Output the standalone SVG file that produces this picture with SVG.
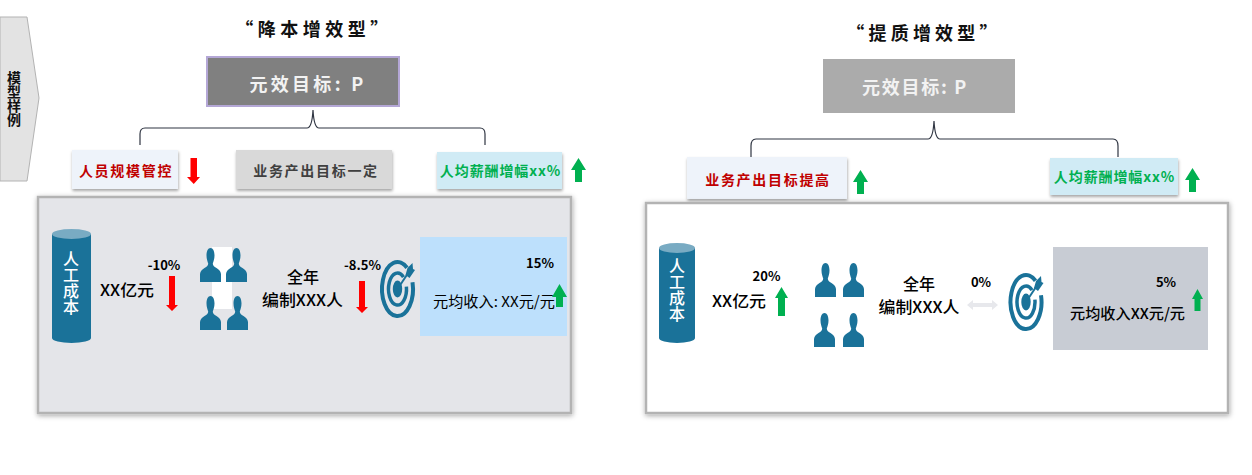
<svg xmlns="http://www.w3.org/2000/svg" xmlns:xlink="http://www.w3.org/1999/xlink" width="1252" height="475" viewBox="0 0 1252 475">
<style>
text{font-family:"Noto Sans CJK SC","Noto Sans",sans-serif;text-anchor:middle}
.ttl{font-size:18px;font-weight:700;fill:#111}
.goal{font-size:18px;font-weight:700}
.lab{font-size:14px;font-weight:700}
.body{font-size:16px;font-weight:500;fill:#000}
.pct{font-size:13px;font-weight:700;fill:#000}
.vert{writing-mode:vertical-rl;text-orientation:upright}
.cyl{font-size:16px;font-weight:500;fill:#fff}
.brace{fill:none;stroke:#2f3542;stroke-width:1.2}
.panel{stroke:#b3b3b3;stroke-width:2.500}
.red{fill:#ff0000}.grn{fill:#00b050}.blue{fill:#1a7299}
</style>
<defs>
<filter id="sh" x="-10%" y="-10%" width="120%" height="125%"><feDropShadow dx="0.5" dy="2" stdDeviation="1.5" flood-color="#000" flood-opacity="0.35"/></filter>
<filter id="psh" x="-5%" y="-5%" width="110%" height="110%"><feDropShadow dx="0.5" dy="1.500" stdDeviation="2.500" flood-color="#000" flood-opacity="0.35"/></filter>
<path id="person" d="M10.500 0C13 0 14.500 3 14.500 7.500C14.500 11 13.400 13.600 12.800 15.500C12.800 17.500 14 18.500 16.500 20C19 21.500 20.600 23 21 26L21 34L0 34L0 26C.4 23 2 21.500 4.500 20C7 18.500 8.200 17.500 8.200 15.500C7.600 13.600 6.500 11 6.500 7.500C6.500 3 8 0 10.500 0Z"/>
<g id="target">
<path d="M9.500 -21.300A15.500 27 0 1 0 15 -6.800" fill="none" stroke="#1a7299" stroke-width="4"/>
<path d="M6 -11.900A9 16 0 1 0 8.900 -2.400" fill="none" stroke="#1a7299" stroke-width="3.500"/>
<ellipse cx="0" cy="0" rx="4.700" ry="8.500" fill="#1a7299"/>
<path d="M0 0L10 -15" stroke="#1a7299" stroke-width="2"/>
<path d="M8 -14L10 -21L15 -26L15.500 -20L17.500 -19L12 -11Z" fill="#1a7299"/>
</g>
</defs>

<g id="side-tab">
<polygon points="0,17 27,17 39,98 27,181 0,181" fill="#e3e3e3" stroke="#b3b3b3"/>
<text class="vert" x="14" y="99" font-size="14" font-weight="700" fill="#111">模型样例</text>
</g>

<g id="title-left"><text class="ttl" x="314" y="36" letter-spacing="4.500">“降本增效型”</text></g>
<g id="goal-left">
<rect x="207" y="57" width="192" height="49" fill="#808080" stroke="#b4a7d6" stroke-width="2"/>
<text class="goal" x="308" y="91" fill="#f2f2f2" letter-spacing="3.300">元效目标: P</text>
</g>
<g id="label-staff">
<rect x="72" y="150" width="106" height="39" fill="#eef3fa" filter="url(#sh)"/>
<text class="lab" x="126" y="176" fill="#c00000" letter-spacing="1.700">人员规模管控</text>
</g>
<g id="label-output">
<rect x="236" y="150" width="156" height="39" fill="#d9d9d9" filter="url(#sh)"/>
<text class="lab" x="316" y="176" fill="#404040" letter-spacing="1.700">业务产出目标一定</text>
</g>
<g id="label-pay-left">
<rect x="437" y="152" width="125" height="37" fill="#d0ebf5" filter="url(#sh)"/>
<text class="lab" x="500.500" y="176" fill="#00b050" letter-spacing="0.900">人均薪酬增幅xx%</text>
</g>

<g id="panel-left">
<rect class="panel" x="38" y="197" width="533" height="216" fill="#e4e5e9" filter="url(#psh)"/>
<rect x="420" y="237" width="147" height="99" fill="#bde0fc"/>
<rect x="212" y="247" width="20" height="62" fill="#fff"/>
</g>
<g id="cylinder-left">
<path class="blue" d="M52 234V338A19.500 5 0 0 0 91 338V234Z"/>
<ellipse cx="71.500" cy="234" rx="19.500" ry="5" fill="#79abc3"/>
<text class="cyl vert" x="71" y="283">人工成本</text>
</g>
<g id="cost-left"><text class="body" x="127" y="296" textLength="54" lengthAdjust="spacingAndGlyphs">XX亿元</text><text class="pct" x="164" y="270">-10%</text></g>
<g id="people-left" class="blue">
<use xlink:href="#person" href="#person" x="200" y="248"/><use xlink:href="#person" href="#person" x="226" y="248"/>
<use xlink:href="#person" href="#person" x="200" y="296"/><use xlink:href="#person" href="#person" x="227" y="296"/>
</g>
<g id="staff-left"><text class="body" x="303" y="283">全年</text><text class="body" x="302.500" y="306" textLength="81" lengthAdjust="spacingAndGlyphs">编制XXX人</text><text class="pct" x="362.500" y="270">-8.5%</text></g>
<g id="target-left"><use xlink:href="#target" href="#target" x="397.500" y="289"/></g>
<g id="revenue-left"><text class="pct" x="540" y="268">15%</text><text x="494" y="307" textLength="122" lengthAdjust="spacingAndGlyphs" style="font-size:15px;font-weight:400;fill:#000">元均收入: XX元/元</text></g>

<g id="title-right"><text class="ttl" x="924" y="40" letter-spacing="4.200">“提质增效型”</text></g>
<g id="goal-right">
<rect x="823" y="59" width="192" height="54" fill="#ababab"/>
<text class="goal" x="915" y="94" fill="#f2f2f2" letter-spacing="1.700">元效目标: P</text>
</g>
<g id="label-output-up">
<rect x="687" y="157" width="160" height="42" fill="#eef3fa" filter="url(#sh)"/>
<text class="lab" x="768" y="185" fill="#c00000" letter-spacing="1.700">业务产出目标提高</text>
</g>
<g id="label-pay-right">
<rect x="1050" y="158" width="128" height="37" fill="#d0ebf5" filter="url(#sh)"/>
<text class="lab" x="1114.500" y="182" fill="#00b050" letter-spacing="0.900">人均薪酬增幅xx%</text>
</g>

<g id="panel-right">
<rect class="panel" x="646" y="203" width="582" height="210" fill="#fff" filter="url(#psh)"/>
<rect x="1053" y="247" width="155" height="103" fill="#c8ccd4"/>
</g>
<g id="cylinder-right">
<path class="blue" d="M659 248V338A18 5 0 0 0 695 338V248Z"/>
<ellipse cx="677" cy="248" rx="18" ry="5" fill="#79abc3"/>
<text class="cyl vert" x="677" y="290">人工成本</text>
</g>
<g id="cost-right"><text class="body" x="739" y="307" textLength="54" lengthAdjust="spacingAndGlyphs">XX亿元</text><text class="pct" x="766.500" y="281">20%</text></g>
<g id="people-right" class="blue">
<use xlink:href="#person" href="#person" x="815" y="263"/><use xlink:href="#person" href="#person" x="843" y="263"/>
<use xlink:href="#person" href="#person" x="814" y="313"/><use xlink:href="#person" href="#person" x="843" y="313"/>
</g>
<g id="staff-right"><text class="body" x="919" y="290">全年</text><text class="body" x="919" y="313" textLength="81" lengthAdjust="spacingAndGlyphs">编制XXX人</text><text class="pct" x="981" y="287">0%</text></g>
<g id="target-right"><use xlink:href="#target" href="#target" x="1026" y="302"/></g>
<g id="revenue-right"><text class="pct" x="1166" y="287">5%</text><text x="1127.500" y="319" textLength="115" lengthAdjust="spacingAndGlyphs" style="font-size:15px;font-weight:500;fill:#000">元均收入XX元/元</text></g>

<g id="connectors">
<path class="brace" d="M140 145V134Q140 128 145 128H307Q312 128 313 110Q314 128 319 128H480Q485 128 485 134V145"/>
<path class="brace" d="M751 157V146Q751 139 756 139H928Q933 139 934 121Q935 139 940 139H1113Q1118 139 1118 146V157"/>
<path class="red" d="M190.500 158H197V177H200L193.750 184L187 177H190.500Z"/>
<path class="red" d="M169 276H175V305H178L172 311L166 305H169Z"/>
<path class="red" d="M359 281H365V307H368L362 313L356 307H359Z"/>
<path class="grn" d="M571 170L578.500 158L586 170H582V182H575V170Z"/>
<path class="grn" d="M552 297L559.500 284L567 297H563V307H556V297Z"/>
<path class="grn" d="M853 182L860.500 170L868 182H864V194H857V182Z"/>
<path class="grn" d="M1185 180L1192.500 168L1200 180H1196V192H1189V180Z"/>
<path class="grn" d="M775 298L781.500 287L788 298H785V316H778V298Z"/>
<path class="grn" d="M1192 299L1197.500 289L1203 299H1200.500V311H1194.500V299Z"/>
<path fill="#e7e8ec" d="M967 305L973 300V303H992V300L998 305L992 310V307H973V310Z"/>
</g>
</svg>
